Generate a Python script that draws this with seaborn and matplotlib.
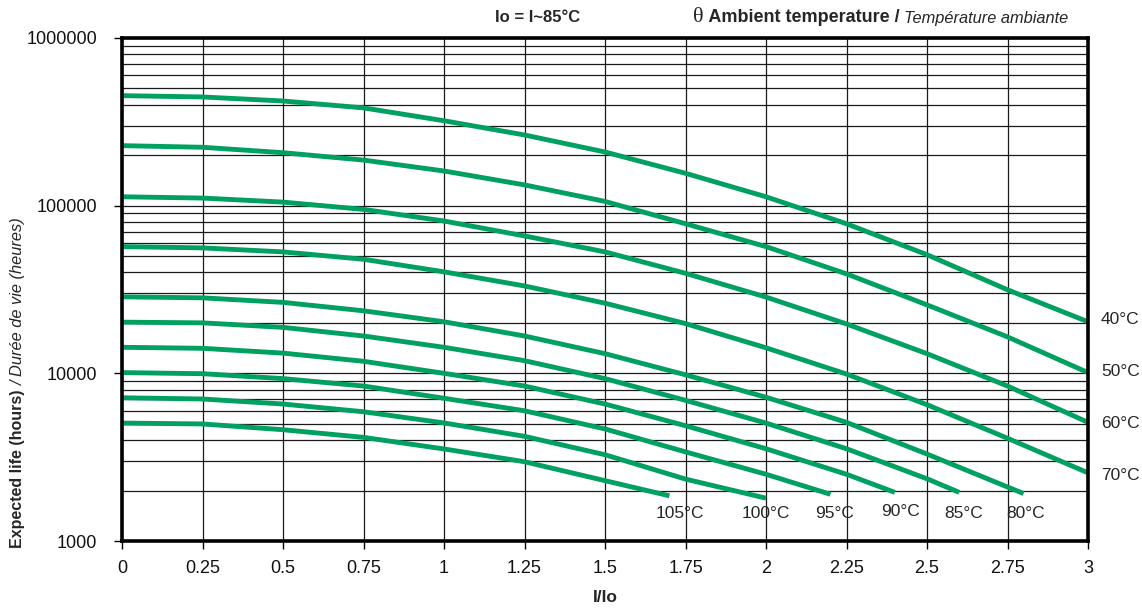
import matplotlib
matplotlib.use("Agg")
import matplotlib.pyplot as plt
import numpy as np
import pandas as pd
import seaborn as sns
from matplotlib.ticker import LogLocator, FixedLocator, NullFormatter, FixedFormatter

# ---------------- data ----------------
temps = ["40°C", "50°C", "60°C", "70°C", "80°C", "85°C", "90°C", "95°C", "100°C", "105°C"]

x_40 = [0, 0.25, 0.5, 0.75, 1, 1.25, 1.5, 1.75, 2, 2.25, 2.5, 2.75, 3]
life_40 = [453000, 445000, 421000, 383000, 321000, 264000, 209000, 156000, 113000, 78000, 51000, 31500, 20300]
x_50 = [0, 0.25, 0.5, 0.75, 1, 1.25, 1.5, 1.75, 2, 2.25, 2.5, 2.75, 3]
life_50 = [228000, 223000, 207000, 187000, 161000, 133000, 106000, 78000, 57000, 39200, 25600, 16500, 10100]
x_60 = [0, 0.25, 0.5, 0.75, 1, 1.25, 1.5, 1.75, 2, 2.25, 2.5, 2.75, 3]
life_60 = [113000, 111000, 105000, 95000, 81000, 66000, 53000, 39500, 28500, 19700, 13100, 8400, 5100]
x_70 = [0, 0.25, 0.5, 0.75, 1, 1.25, 1.5, 1.75, 2, 2.25, 2.5, 2.75, 3]
life_70 = [57000, 56000, 53000, 47900, 40300, 33200, 26200, 19800, 14200, 9900, 6500, 4100, 2550]
x_80 = [0, 0.25, 0.5, 0.75, 1, 1.25, 1.5, 1.75, 2, 2.25, 2.5, 2.75, 2.8]
life_80 = [28600, 28200, 26500, 23600, 20300, 16700, 13100, 9800, 7200, 5100, 3300, 2100, 1920]
x_85 = [0, 0.25, 0.5, 0.75, 1, 1.25, 1.5, 1.75, 2, 2.25, 2.5, 2.6]
life_85 = [20200, 20000, 18800, 16700, 14300, 11900, 9300, 6900, 5050, 3550, 2350, 1950]
x_90 = [0, 0.25, 0.5, 0.75, 1, 1.25, 1.5, 1.75, 2, 2.25, 2.4]
life_90 = [14300, 14100, 13200, 11800, 10000, 8400, 6560, 4870, 3550, 2500, 1950]
x_95 = [0, 0.25, 0.5, 0.75, 1, 1.25, 1.5, 1.75, 2, 2.2]
life_95 = [10100, 9950, 9300, 8400, 7100, 5980, 4660, 3400, 2500, 1900]
x_100 = [0, 0.25, 0.5, 0.75, 1, 1.25, 1.5, 1.75, 2]
life_100 = [7150, 7030, 6560, 5900, 5060, 4210, 3270, 2340, 1800]
x_105 = [0, 0.25, 0.5, 0.75, 1, 1.25, 1.5, 1.7]
life_105 = [5050, 4990, 4610, 4150, 3540, 2970, 2290, 1860]

x_ticks = [0, 0.25, 0.5, 0.75, 1, 1.25, 1.5, 1.75, 2, 2.25, 2.5, 2.75, 3]
x_tick_labels = ["0", "0.25", "0.5", "0.75", "1", "1.25", "1.5", "1.75", "2", "2.25", "2.5", "2.75", "3"]
y_ticks = [1000, 10000, 100000, 1000000]
y_tick_labels = ["1000", "10000", "100000", "1000000"]

xs = [x_40, x_50, x_60, x_70, x_80, x_85, x_90, x_95, x_100, x_105]
ys = [life_40, life_50, life_60, life_70, life_80, life_85, life_90, life_95, life_100, life_105]
rows = []
for t, xx, yy in zip(temps, xs, ys):
    for a, b in zip(xx, yy):
        rows.append({"temp": t, "ratio": a, "life": b})
df = pd.DataFrame(rows)

# ---------------- style ----------------
sns.set_style("white")
FONT = ["Liberation Sans", "DejaVu Sans"]
plt.rcParams["font.family"] = FONT

W, H = 1142, 609
fig = plt.figure(figsize=(W / 100, H / 100), dpi=100)
ax = fig.add_axes([122 / W, 1 - 541 / H, (1088 - 122) / W, (541 - 38) / H])

GREEN = "#00A060"
sns.lineplot(data=df, x="ratio", y="life", hue="temp", units="temp", estimator=None,
             palette=[GREEN] * len(temps), legend=False, linewidth=3.5, ax=ax, sort=True,
             solid_capstyle="butt", solid_joinstyle="round", zorder=3)

ax.set_yscale("log")
ax.set_xlim(0, 3)
ax.set_ylim(1000, 1000000)
ax.xaxis.set_major_locator(FixedLocator(x_ticks))
ax.xaxis.set_major_formatter(FixedFormatter(x_tick_labels))
ax.yaxis.set_major_locator(FixedLocator(y_ticks))
ax.yaxis.set_major_formatter(FixedFormatter(y_tick_labels))
ax.yaxis.set_minor_locator(LogLocator(base=10, subs=np.arange(2, 10)))
ax.yaxis.set_minor_formatter(NullFormatter())

ax.grid(True, which="major", axis="x", color="#1a1a1a", linewidth=0.9, zorder=1)
ax.grid(True, which="both", axis="y", color="#1a1a1a", linewidth=0.9, zorder=1)
ax.set_axisbelow(True)

for s in ax.spines.values():
    s.set_visible(True)
    s.set_color("black")
    s.set_linewidth(2.6)
    s.set_zorder(5)

ax.tick_params(axis="both", which="major", direction="out", length=6, width=1, color="black",
               labelsize=13, bottom=True, left=True, labelcolor="#111111")
ax.tick_params(axis="x", which="major", pad=8)
ax.tick_params(axis="y", which="major", pad=12)
ax.tick_params(axis="y", which="minor", length=0)
ax.set_xlabel("")
ax.set_ylabel("")

# ---------------- texts ----------------
def fx(px):
    return px / W

def fy(py):
    return 1 - py / H

fig.text(fx(605), fy(598), "I/Io", fontsize=12.5, fontweight="bold", ha="center", va="center")
fig.text(fx(538), fy(17), "Io = I~85°C", fontsize=12, fontweight="bold", ha="center", va="center")

fig.canvas.draw()
renderer = fig.canvas.get_renderer()

# title pieces
x_cur = 693
parts = [("θ", dict(fontsize=16, family=["Liberation Serif", "DejaVu Serif"])),
         (" Ambient temperature / ", dict(fontsize=13, fontweight="bold")),
         ("Température ambiante", dict(fontsize=11.8, style="italic"))]
for s, kw in parts:
    t = fig.text(fx(x_cur), fy(18), s, ha="left", va="center", **kw)
    bb = t.get_window_extent(renderer)
    x_cur = bb.x1

# y label pieces (rotated)
y_cur = 61  # from bottom, pixels
yparts = [("Expected life (hours) ", dict(fontsize=11.5, fontweight="bold")),
          ("/ Durée de vie (heures)", dict(fontsize=11.8, style="italic"))]
for s, kw in yparts:
    t = fig.text(fx(18), y_cur / H, s, rotation=90, ha="center", va="bottom", **kw)
    bb = t.get_window_extent(renderer)
    y_cur = bb.y1

# curve labels on the right
for s, py in [("40°C", 320), ("50°C", 371), ("60°C", 423), ("70°C", 475)]:
    fig.text(fx(1101), fy(py), s, fontsize=12.5, ha="left", va="center")
# curve labels at the bottom
for s, px, py in [("105°C", 680, 513), ("100°C", 766, 513), ("95°C", 835, 513),
                  ("90°C", 900, 511), ("85°C", 964, 513), ("80°C", 1026, 513)]:
    fig.text(fx(px), fy(py), s, fontsize=12.5, ha="center", va="center")

fig.savefig("out.png", dpi=100, facecolor="white")
